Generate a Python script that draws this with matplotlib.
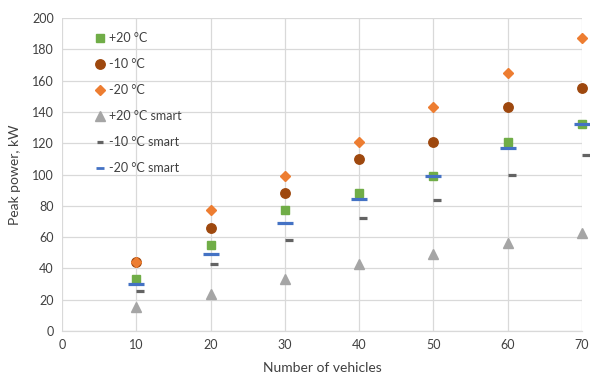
import matplotlib.pyplot as plt
import matplotlib.transforms as mtransforms

plt.rcParams['font.family'] = ['Lato', 'DejaVu Sans']

vehicles = [10, 20, 30, 40, 50, 60, 70]
plus20 = [33, 55, 77, 88, 99, 121, 132]
minus10 = [44, 66, 88, 110, 121, 143, 155]
minus20 = [44, 77, 99, 121, 143, 165, 187]
plus20_smart = [15.5, 23.5, 33, 43, 49, 56.5, 62.5]
minus10_smart = [25.5, 43, 58, 72, 84, 100, 112.5]
minus20_smart = [30, 49, 69, 84.5, 99, 117, 132]

xticks = [0, 10, 20, 30, 40, 50, 60, 70]
yticks = [0, 20, 40, 60, 80, 100, 120, 140, 160, 180, 200]

text_col = "#404040"
grid_col = "#d9d9d9"

fig = plt.figure(figsize=(5.9, 3.79), dpi=100)
ax = fig.add_axes([62 / 590, 1 - 331 / 379, 520 / 590, 313 / 379])

common = dict(ls="none", clip_on=False)
ax.plot(vehicles, plus20, marker="s", ms=6.3, color="#70ad47", label="+20 °C", zorder=3, **common)
ax.plot(vehicles, minus10, marker="o", ms=6.8, color="#9e480e", label="-10 °C", zorder=3, **common)
ax.plot(vehicles, minus20, marker="D", ms=5, color="#ed7d31", label="-20 °C", zorder=3, **common)
ax.plot(vehicles, plus20_smart, marker="^", ms=7.5, color="#a5a5a5", label="+20 °C smart", zorder=3, **common)
# the -10 smart dash sits a little to the right of its category
shift = ax.transData + mtransforms.ScaledTranslation(2.8 / 72, 0, fig.dpi_scale_trans)
ax.plot(vehicles, minus10_smart, marker="_", ms=5.5, mew=2.3, color="#636363",
        label="-10 °C smart", zorder=3, transform=shift, **common)
ax.plot(vehicles, minus20_smart, marker="_", ms=11, mew=2.3, color="#4472c4",
        label="-20 °C smart", zorder=4, **common)

ax.set_xlim(0, 70)
ax.set_ylim(0, 200)
ax.set_xticks(xticks)
ax.set_yticks(yticks)
ax.grid(True, color=grid_col, lw=0.9)
ax.set_axisbelow(True)
for s in ["top", "right", "left"]:
    ax.spines[s].set_visible(False)
ax.spines["bottom"].set_color(grid_col)
ax.spines["bottom"].set_linewidth(0.9)
ax.tick_params(length=0, labelsize=9, colors=text_col, pad=6)

ax.set_xlabel("Number of vehicles", fontsize=10, color=text_col, labelpad=8)
ax.set_ylabel("Peak power, kW", fontsize=10, color=text_col, labelpad=8)

leg = ax.legend(loc="upper left", bbox_to_anchor=(0.041, 0.99), frameon=False, fontsize=9,
                handlelength=0.8, handletextpad=0.35, labelspacing=1.12, labelcolor=text_col)
# legend keys are all about the same size
leg.legend_handles[4].set_markersize(4)
leg.legend_handles[5].set_markersize(6)
leg.legend_handles[5].set_markeredgewidth(2)

fig.savefig("out.png", dpi=100)
